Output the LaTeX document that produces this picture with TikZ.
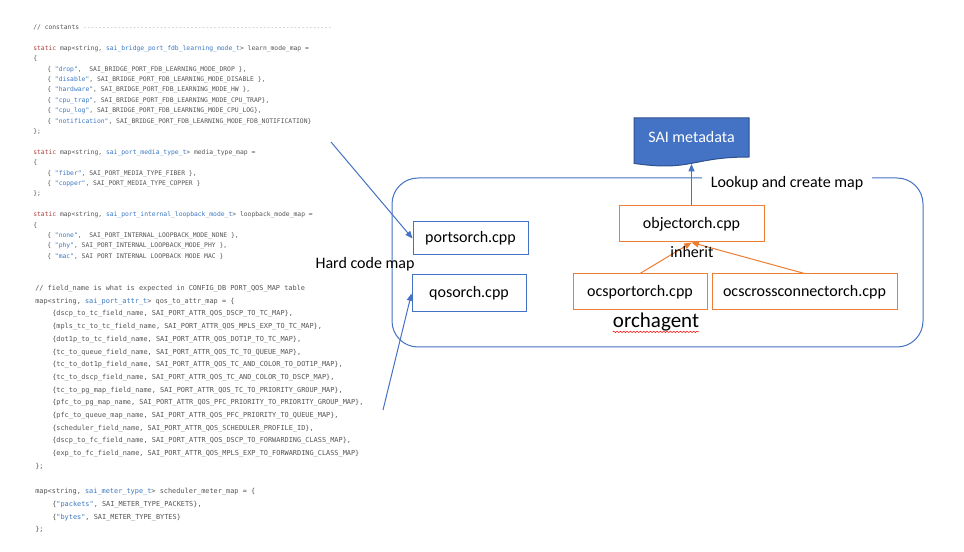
\documentclass[tikz,border=0pt]{standalone}
\usepackage{fontspec}
\setmainfont{Carlito}
\setmonofont{DejaVu Sans Mono}
\usetikzlibrary{arrows.meta,decorations.pathmorphing}
\definecolor{codegray}{HTML}{555555}
\definecolor{dashgray}{HTML}{AAAAAA}
\definecolor{codered}{HTML}{B0413E}
\definecolor{codeblue}{HTML}{3B78C2}
\definecolor{oblue}{HTML}{4472C4}
\definecolor{dblue}{HTML}{2F528F}
\definecolor{orng}{HTML}{ED7D31}
\newcommand\kw[1]{\textcolor{codered}{#1}}
\newcommand\ty[1]{\textcolor{codeblue}{#1}}
\newcommand\sq[1]{\textcolor{codeblue}{"#1"}}
\AtBeginDocument{\catcode`\_=12 }
\tikzset{
  cA/.style={font=\ttfamily\fontsize{4.77}{6}\selectfont, text=codegray, anchor=base west, inner sep=0pt},
  cB/.style={font=\ttfamily\fontsize{5.17}{6.5}\selectfont, text=codegray, anchor=base west, inner sep=0pt},
  lbl/.style={font=\fontsize{12}{14}\selectfont, inner sep=0pt},
  bbox/.style={lbl, draw=oblue, line width=0.75pt},
  obox/.style={lbl, draw=orng, line width=0.75pt},
  barrow/.style={draw=oblue, line width=0.75pt, -{Triangle[length=5.5pt,width=4.5pt]}},
  oarrow/.style={draw=orng, line width=0.75pt, -{Triangle[length=5.5pt,width=4.5pt]}}
}
\begin{document}
\begin{tikzpicture}[x=0.75pt,y=-0.75pt]
\useasboundingbox[fill=white] (0,0) rectangle (964,552);

% ---------- code, part 1
\node[cA] (a0) at (33,29.8) {// constants \textcolor{dashgray}{-----------------------------------------------------------------}};
\node[cA] (a1) at (33,50.3) {\kw{static} map<string, \ty{sai_bridge_port_fdb_learning_mode_t}> learn_mode_map =};
\node[cA] (a2) at (33,60.7) {\{};
\node[cA] (a3) at (47,71.1) {\{ \sq{drop},\ \ SAI_BRIDGE_PORT_FDB_LEARNING_MODE_DROP \},};
\node[cA] (a4) at (47,81.5) {\{ \sq{disable}, SAI_BRIDGE_PORT_FDB_LEARNING_MODE_DISABLE \},};
\node[cA] (a5) at (47,91.9) {\{ \sq{hardware}, SAI_BRIDGE_PORT_FDB_LEARNING_MODE_HW \},};
\node[cA] (a6) at (47,102.3) {\{ \sq{cpu_trap}, SAI_BRIDGE_PORT_FDB_LEARNING_MODE_CPU_TRAP\},};
\node[cA] (a7) at (47,112.7) {\{ \sq{cpu_log}, SAI_BRIDGE_PORT_FDB_LEARNING_MODE_CPU_LOG\},};
\node[cA] (a8) at (47,123.1) {\{ \sq{notification}, SAI_BRIDGE_PORT_FDB_LEARNING_MODE_FDB_NOTIFICATION\}};
\node[cA] (a9) at (33,133.5) {\};};
\node[cA] (a10) at (33,154.3) {\kw{static} map<string, \ty{sai_port_media_type_t}> media_type_map =};
\node[cA] (a11) at (33,164.7) {\{};
\node[cA] (a12) at (47,175.1) {\{ \sq{fiber}, SAI_PORT_MEDIA_TYPE_FIBER \},};
\node[cA] (a13) at (47,185.5) {\{ \sq{copper}, SAI_PORT_MEDIA_TYPE_COPPER \}};
\node[cA] (a14) at (33,195.9) {\};};
\node[cA] (a15) at (33,216.7) {\kw{static} map<string, \ty{sai_port_internal_loopback_mode_t}> loopback_mode_map =};
\node[cA] (a16) at (33,227.1) {\{};
\node[cA] (a17) at (47,237.5) {\{ \sq{none},\ \ SAI_PORT_INTERNAL_LOOPBACK_MODE_NONE \},};
\node[cA] (a18) at (47,247.9) {\{ \sq{phy}, SAI_PORT_INTERNAL_LOOPBACK_MODE_PHY \},};
\node[cA] (a19) at (47,258.3) {\{ \sq{mac}, SAI PORT INTERNAL LOOPBACK MODE MAC \}};

% ---------- code, part 2
\node[cB] (b0) at (35,290.5) {// field_name is what is expected in CONFIG_DB PORT_QOS_MAP table};
\node[cB] (b1) at (35,303.2) {map<string, \ty{sai_port_attr_t}> qos_to_attr_map = \{};
\node[cB] (b2) at (52,315.9) {\{dscp_to_tc_field_name, SAI_PORT_ATTR_QOS_DSCP_TO_TC_MAP\},};
\node[cB] (b3) at (52,328.6) {\{mpls_tc_to_tc_field_name, SAI_PORT_ATTR_QOS_MPLS_EXP_TO_TC_MAP\},};
\node[cB] (b4) at (52,341.3) {\{dot1p_to_tc_field_name, SAI_PORT_ATTR_QOS_DOT1P_TO_TC_MAP\},};
\node[cB] (b5) at (52,354.0) {\{tc_to_queue_field_name, SAI_PORT_ATTR_QOS_TC_TO_QUEUE_MAP\},};
\node[cB] (b6) at (52,366.7) {\{tc_to_dot1p_field_name, SAI_PORT_ATTR_QOS_TC_AND_COLOR_TO_DOT1P_MAP\},};
\node[cB] (b7) at (52,379.4) {\{tc_to_dscp_field_name, SAI_PORT_ATTR_QOS_TC_AND_COLOR_TO_DSCP_MAP\},};
\node[cB] (b8) at (52,392.1) {\{tc_to_pg_map_field_name, SAI_PORT_ATTR_QOS_TC_TO_PRIORITY_GROUP_MAP\},};
\node[cB] (b9) at (52,404.8) {\{pfc_to_pg_map_name, SAI_PORT_ATTR_QOS_PFC_PRIORITY_TO_PRIORITY_GROUP_MAP\},};
\node[cB] (b10) at (52,417.5) {\{pfc_to_queue_map_name, SAI_PORT_ATTR_QOS_PFC_PRIORITY_TO_QUEUE_MAP\},};
\node[cB] (b11) at (52,430.2) {\{scheduler_field_name, SAI_PORT_ATTR_QOS_SCHEDULER_PROFILE_ID\},};
\node[cB] (b12) at (52,442.9) {\{dscp_to_fc_field_name, SAI_PORT_ATTR_QOS_DSCP_TO_FORWARDING_CLASS_MAP\},};
\node[cB] (b13) at (52,455.6) {\{exp_to_fc_field_name, SAI_PORT_ATTR_QOS_MPLS_EXP_TO_FORWARDING_CLASS_MAP\}};
\node[cB] (b14) at (35,468.3) {\};};
\node[cB] (b15) at (35,493.7) {map<string, \ty{sai_meter_type_t}> scheduler_meter_map = \{};
\node[cB] (b16) at (52,506.4) {\{\sq{packets}, SAI_METER_TYPE_PACKETS\},};
\node[cB] (b17) at (52,519.1) {\{\sq{bytes}, SAI_METER_TYPE_BYTES\}};
\node[cB] (b18) at (35,531.8) {\};};

% ---------- diagram
\node[draw=oblue, line width=0.75pt, rounded corners=19.5pt, minimum width=398.25pt, minimum height=126.75pt, inner sep=0pt] (orch) at (657.5,262.5) {};
\node[lbl, fill=white, inner xsep=6.75pt, inner ysep=3pt] (lookup) at (787,183) {Lookup and create map};

\fill[oblue] (634,118) -- (749,118) -- (749,157) .. controls (691.5,157) and (691.5,171.8) .. (634,163.4) -- cycle;
\draw[dblue, line width=0.75pt] (634,118) -- (749,118) -- (749,157) .. controls (691.5,157) and (691.5,171.8) .. (634,163.4) -- cycle;
\node[lbl, text=white] (sai) at (691.5,137) {SAI metadata};
\coordinate (saibot) at (691.5,164);

\node[bbox, minimum width=86.25pt, minimum height=24.75pt] (port) at (470.5,238.5) {portsorch.cpp};
\node[bbox, minimum width=85.5pt, minimum height=27.75pt] (qos) at (469,293.5) {qosorch.cpp};
\node[obox, minimum width=108.75pt, minimum height=27pt] (obj) at (691.5,224) {objectorch.cpp};
\node[obox, minimum width=100.5pt, minimum height=27pt] (ocsp) at (640,292) {ocsportorch.cpp};
\node[obox, minimum width=138.75pt, minimum height=27pt] (ocsx) at (804.5,292) {ocscrossconnectorch.cpp};

\draw[barrow] (obj.north) -- (saibot);
\draw[oarrow] (ocsp.north) -- (obj.south);
\draw[oarrow] (ocsx.north) -- (obj.south);
\node[lbl] (inh) at (692,252) {inherit};

\node[lbl] (hard) at (365,264) {Hard code map};
\coordinate (c1) at (331,142);
\coordinate (c2) at (383,410);
\draw[barrow] (c1) -- (port.west);
\draw[barrow] (c2) -- (qos.west);

\node[lbl, font=\fontsize{15.75}{18}\selectfont, anchor=base] (orchlbl) at (656,328) {orchagent};
\draw[red, line width=0.4pt, decorate, decoration={snake, amplitude=0.5pt, segment length=2.5pt}] (orchlbl.south west) -- (orchlbl.south east);
\end{tikzpicture}
\end{document}
